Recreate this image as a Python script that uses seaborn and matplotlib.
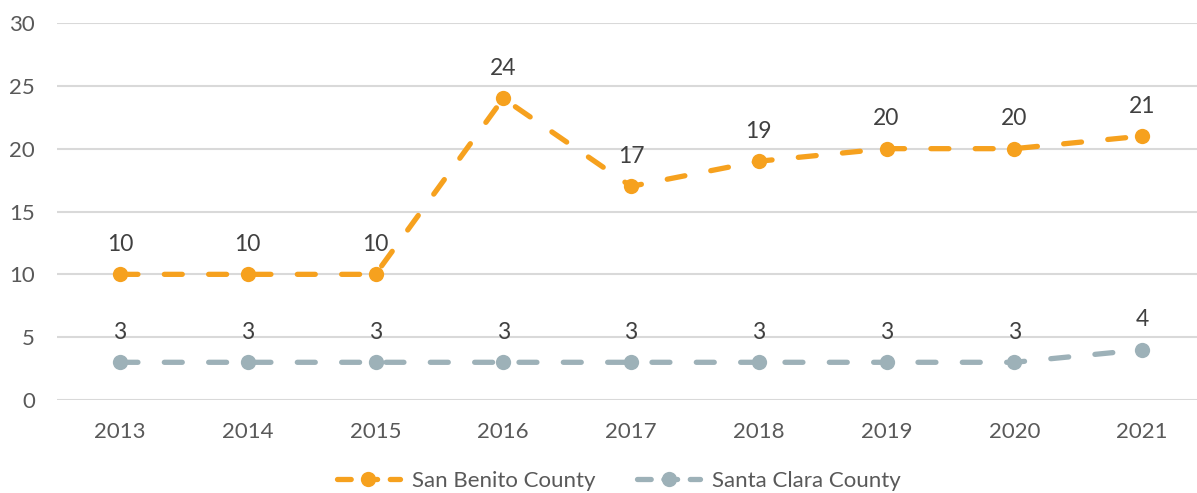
import matplotlib
matplotlib.use("Agg")
import matplotlib.pyplot as plt
import seaborn as sns
import pandas as pd
from matplotlib.lines import Line2D

years = ["2013", "2014", "2015", "2016", "2017", "2018", "2019", "2020", "2021"]
san_benito = [10, 10, 10, 24, 17, 19, 20, 20, 21]
santa_clara = [3, 3, 3, 3, 3, 3, 3, 3, 4]
series_names = ["San Benito County", "Santa Clara County"]
colors = {"San Benito County": "#F6A11E", "Santa Clara County": "#9DB1B8"}
yticks = [0, 5, 10, 15, 20, 25, 30]

df = pd.DataFrame({
    "Year": years * 2,
    "x": list(range(len(years))) * 2,
    "Value": san_benito + santa_clara,
    "Series": [series_names[0]] * len(years) + [series_names[1]] * len(years),
})

sns.set_theme(style="white")
plt.rcParams["font.family"] = ["Lato", "DejaVu Sans"]
text_color = "#595959"

fig = plt.figure(figsize=(11.97, 4.93), dpi=100)
ax = fig.add_axes([57 / 1197, 1 - 400 / 493, 1 - 57 / 1197, (400 - 23) / 493])

dash = (3.4, 5.0)
sns.lineplot(data=df, x="x", y="Value", hue="Series", style="Series",
             palette=colors, dashes={s: dash for s in series_names},
             markers={s: "o" for s in series_names}, markersize=11,
             markeredgewidth=0, linewidth=3.8, ax=ax, legend=False, zorder=3)
for ln in ax.lines:
    ln.set_dash_capstyle("round")

for vals in (san_benito, santa_clara):
    for i, v in enumerate(vals):
        ax.annotate(str(v), (i, v), xytext=(0, 14), textcoords="offset points",
                    ha="center", va="bottom", fontsize=16.5, color="#404040")

ax.set_xlim(-0.493, 8.43)
ax.set_ylim(0, 30)
ax.set_yticks(yticks)
ax.set_yticklabels([str(t) for t in yticks])
ax.set_xticks(range(len(years)))
ax.set_xticklabels(years)
ax.tick_params(axis="both", labelsize=16, colors=text_color, length=0)
ax.tick_params(axis="x", pad=16)
ax.tick_params(axis="y", pad=16)
for lbl in ax.get_yticklabels():
    lbl.set_horizontalalignment("right")
ax.yaxis.grid(True, color="#D9D9D9", linewidth=1.5)
ax.set_axisbelow(True)
for sp in ax.spines.values():
    sp.set_visible(False)
ax.set_xlabel("")
ax.set_ylabel("")

handles = [Line2D([0], [0], color=colors[s], linewidth=3.8, marker="o",
                  markersize=11, markeredgewidth=0, dashes=(2.6, 2.4),
                  dash_capstyle="round") for s in series_names]
leg = fig.legend(handles, series_names, loc="center", ncol=2,
                 bbox_to_anchor=(619 / 1197, 12 / 493), frameon=False, fontsize=16,
                 handlelength=2.8, columnspacing=1.9, handletextpad=0.55,
                 borderpad=0.0)
for t in leg.get_texts():
    t.set_color(text_color)

fig.savefig("out.png", dpi=100)
